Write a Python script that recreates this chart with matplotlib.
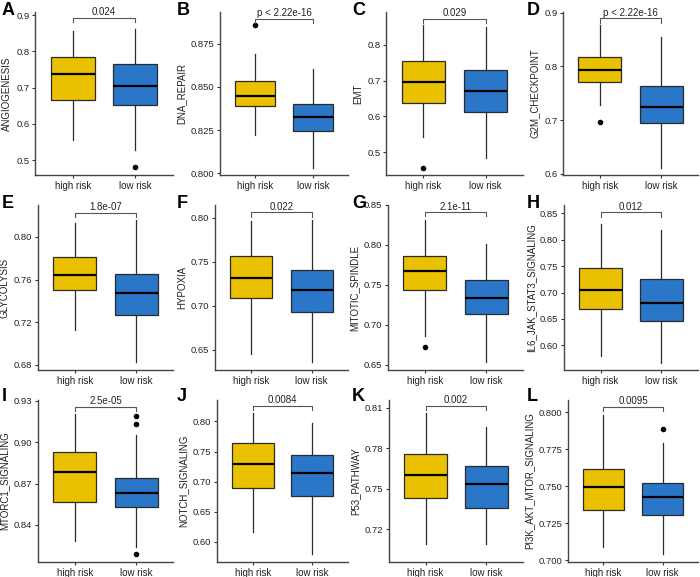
import matplotlib
matplotlib.use("Agg")
import matplotlib.pyplot as plt
import numpy as np
from matplotlib import font_manager

plt.rcParams['font.family'] = ['Liberation Sans', 'DejaVu Sans']
available = {f.name for f in font_manager.fontManager.ttflist}
tick_family = ['Liberation Sans Narrow', 'Liberation Sans'] if 'Liberation Sans Narrow' in available else ['Liberation Sans', 'DejaVu Sans']
tick_size = 7.5 if 'Liberation Sans Narrow' in available else 6.8

letters = ["A", "B", "C", "D", "E", "F", "G", "H", "I", "J", "K", "L"]
ylabels = ["ANGIOGENESIS", "DNA_REPAIR", "EMT", "G2M_CHECKPOINT",
           "GLYCOLYSIS", "HYPOXIA", "MITOTIC_SPINDLE", "IL6_JAK_STAT3_SIGNALING",
           "MTORC1_SIGNALING", "NOTCH_SIGNALING", "P53_PATHWAY", "PI3K_AKT_MTOR_SIGNALING"]
groups = ["high risk", "low risk"]
pvals = ["0.024", "p < 2.22e-16", "0.029", "p < 2.22e-16",
         "1.8e-07", "0.022", "2.1e-11", "0.012",
         "2.5e-05", "0.0084", "0.002", "0.0095"]

# box stats per panel: [whislo, q1, med, q3, whishi] for high risk, low risk
high_stats = [
    [0.557, 0.667, 0.737, 0.785, 0.856],
    [0.8221, 0.8388, 0.8448, 0.8533, 0.8692],
    [0.5435, 0.638, 0.6972, 0.7546, 0.8556],
    [0.728, 0.771, 0.794, 0.818, 0.877],
    [0.7129, 0.7497, 0.7641, 0.7812, 0.8132],
    [0.6447, 0.709, 0.7318, 0.757, 0.7962],
    [0.6866, 0.7437, 0.768, 0.7868, 0.8316],
    [0.5803, 0.6685, 0.705, 0.7468, 0.8303],
    [0.8281, 0.8565, 0.8787, 0.893, 0.9205],
    [0.616, 0.690, 0.7286, 0.7643, 0.8137],
    [0.7093, 0.7429, 0.7605, 0.7758, 0.8058],
    [0.7093, 0.7338, 0.7493, 0.7615, 0.7985],
]
low_stats = [
    [0.528, 0.651, 0.704, 0.766, 0.863],
    [0.8029, 0.8242, 0.8327, 0.8402, 0.8602],
    [0.4833, 0.613, 0.6704, 0.7287, 0.849],
    [0.611, 0.694, 0.724, 0.764, 0.855],
    [0.6826, 0.727, 0.7475, 0.7653, 0.8163],
    [0.636, 0.6932, 0.7183, 0.740, 0.7973],
    [0.6533, 0.714, 0.7333, 0.7563, 0.8013],
    [0.5657, 0.6451, 0.6794, 0.7263, 0.8195],
    [0.8238, 0.8532, 0.8632, 0.8743, 0.905],
    [0.580, 0.6758, 0.7137, 0.745, 0.7973],
    [0.7088, 0.7361, 0.7537, 0.7665, 0.7953],
    [0.704, 0.731, 0.7425, 0.7524, 0.7792],
]
high_fliers = [[], [0.8856], [0.4574], [0.696], [], [], [0.6724], [], [], [], [], []]
low_fliers = [[0.480], [], [], [], [], [], [], [], [0.9188, 0.9135, 0.8190], [], [], [0.7885]]
bracket_y = [0.893, 0.8894, 0.872, 0.889, 0.8225, 0.806, 0.8408, 0.852, 0.9257, 0.8264, 0.8112, 0.8035]

yticks = [
    [0.5, 0.6, 0.7, 0.8, 0.9],
    [0.800, 0.825, 0.850, 0.875],
    [0.5, 0.6, 0.7, 0.8],
    [0.6, 0.7, 0.8, 0.9],
    [0.68, 0.72, 0.76, 0.80],
    [0.65, 0.70, 0.75, 0.80],
    [0.65, 0.70, 0.75, 0.80, 0.85],
    [0.60, 0.65, 0.70, 0.75, 0.80, 0.85],
    [0.84, 0.87, 0.90, 0.93],
    [0.60, 0.65, 0.70, 0.75, 0.80],
    [0.72, 0.75, 0.78, 0.81],
    [0.700, 0.725, 0.750, 0.775, 0.800],
]
tick_decimals = [1, 3, 1, 1, 2, 2, 2, 2, 2, 2, 2, 3]

# layout (pixels)
ylims = [(0.459, 0.909), (0.799, 0.8933), (0.437, 0.891), (0.598, 0.901),
         (0.675, 0.830), (0.6267, 0.8145), (0.6437, 0.85), (0.553, 0.866),
         (0.8131, 0.9307), (0.5665, 0.8357), (0.6958, 0.8156), (0.6989, 0.8084)]
lefts = [35, 220, 386, 563, 38, 215, 388, 564, 38, 217, 389, 568]
row_tops = [12, 205, 400]
row_bottoms = [175, 370, 562]
letter_y = [2, 195, 388]

W, H = 700, 577
fig = plt.figure(figsize=(W / 100, H / 100), dpi=100)

colors = ["#EAC100", "#2A76C8"]
edge = "#2b2b2b"

for i in range(12):
    r, c = divmod(i, 4)
    left = lefts[i]
    right = c * 175 + 173
    top = row_tops[r]
    bottom = row_bottoms[r]
    ax = fig.add_axes([left / W, 1 - bottom / H, (right - left) / W, (bottom - top) / H])

    stats = []
    for s, fl, lab in ((high_stats[i], high_fliers[i], groups[0]),
                       (low_stats[i], low_fliers[i], groups[1])):
        stats.append(dict(whislo=s[0], q1=s[1], med=s[2], q3=s[3], whishi=s[4],
                          fliers=np.array(fl), label=lab))
    bp = ax.bxp(stats, positions=[1, 2], widths=0.7, patch_artist=True,
                showfliers=True, showcaps=False,
                boxprops=dict(edgecolor=edge, linewidth=0.9),
                whiskerprops=dict(color=edge, linewidth=0.9),
                medianprops=dict(color="black", linewidth=1.6),
                flierprops=dict(marker='o', markerfacecolor='black', markeredgecolor='black',
                                markersize=3, linestyle='none'))
    for patch, col in zip(bp['boxes'], colors):
        patch.set_facecolor(col)

    ax.set_xlim(0.4, 2.6)
    ax.set_ylim(*ylims[i])
    ax.set_yticks(yticks[i])
    ax.set_yticklabels([f"{t:.{tick_decimals[i]}f}" for t in yticks[i]],
                       family=tick_family, fontsize=tick_size)
    ax.set_xticks([1, 2])
    ax.set_xticklabels(groups, fontsize=7)
    ax.tick_params(axis='both', length=2.5, width=0.8, color="#333333",
                   labelcolor="#222222", pad=1.5)
    for sp in ["top", "right"]:
        ax.spines[sp].set_visible(False)
    for sp in ["left", "bottom"]:
        ax.spines[sp].set_color("#444444")
        ax.spines[sp].set_linewidth(1.0)
    ax.set_ylabel(ylabels[i], fontsize=7, color="#222222", labelpad=3)

    # significance bracket
    yr = ylims[i][1] - ylims[i][0]
    by = bracket_y[i]
    tick = 0.025 * yr
    ax.plot([1, 1, 2, 2], [by - tick, by, by, by - tick], color="#555555", lw=0.8,
            clip_on=False)
    ax.text(1.5, by + 0.005 * yr, pvals[i], ha='center', va='bottom', fontsize=7,
            color="#222222", clip_on=False)

    fig.text((c * 175 + 2) / W, 1 - letter_y[r] / H, letters[i], fontsize=13,
             fontweight='bold', ha='left', va='top')

fig.savefig("out.png", dpi=100)
